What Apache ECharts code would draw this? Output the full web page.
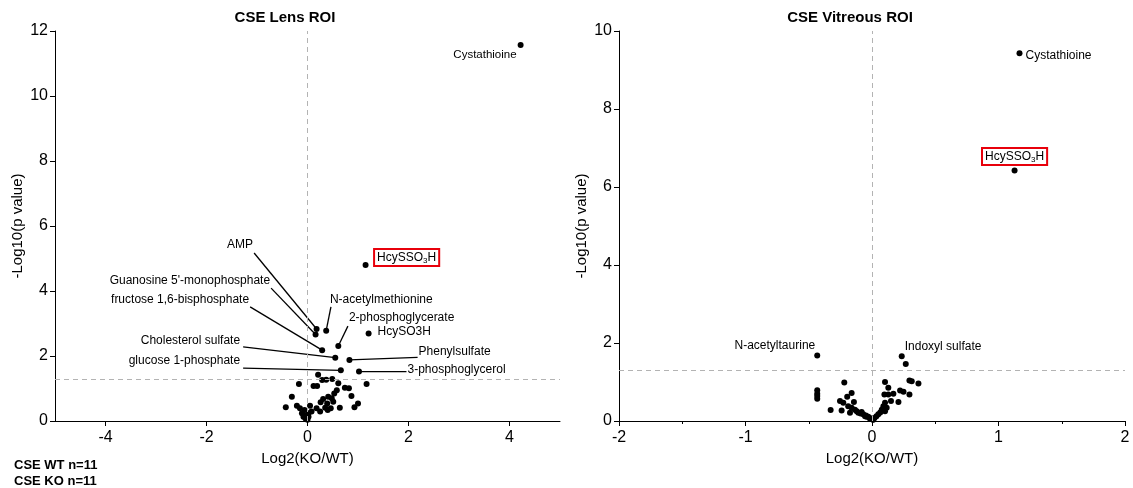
<!DOCTYPE html>
<html><head><meta charset="utf-8">
<script src="https://cdn.jsdelivr.net/npm/echarts@6/dist/echarts.min.js"></script>
<style>html,body{margin:0;padding:0;background:#fff}#c{width:1133px;height:488px}</style>
</head><body><div id="c"></div>
<script>
// ---------- DATA ----------
// CSE Lens ROI — labelled metabolites
const lensLabelNames = ['Cystathioine','HcySSO3H','AMP',"Guanosine 5'-monophosphate",'fructose 1,6-bisphosphate','N-acetylmethionine','2-phosphoglycerate','HcySO3H','Cholesterol sulfate','Phenylsulfate','glucose 1-phosphate','3-phosphoglycerol'];
const lensLabelX = [4.22, 1.15, 0.18, 0.16, 0.29, 0.37, 0.61, 1.21, 0.55, 0.83, 0.66, 1.02];
const lensLabelY = [11.57, 4.80, 2.83, 2.66, 2.18, 2.78, 2.31, 2.69, 1.95, 1.88, 1.56, 1.52];
// CSE Lens ROI — other metabolites
const lensOtherX = [0.21,0.29,0.37,0.49,-0.17,0.12,0.19,0.61,0.74,0.82,1.17,0.58,0.53,-0.31,0.41,0.31,0.48,0.87,0.26,0.39,0.51,1.00,0.93,-0.43,-0.21,-0.15,0.05,0.18,0.35,0.46,0.64,0.25,0.40,-0.06,-0.11,-0.02,-0.08,-0.04,0.02,0.08,0.02,0.00];
const lensOtherY = [1.42,1.26,1.27,1.29,1.14,1.08,1.08,1.16,1.02,1.01,1.14,0.95,0.85,0.75,0.75,0.68,0.70,0.77,0.58,0.54,0.59,0.54,0.42,0.42,0.47,0.39,0.47,0.39,0.41,0.39,0.41,0.29,0.34,0.34,0.24,0.18,0.13,0.08,0.24,0.29,0.13,0.04];

// CSE Vitreous ROI — labelled metabolites
const vitLabelNames = ['Cystathioine','HcySSO3H','N-acetyltaurine','Indoxyl sulfate'];
const vitLabelX = [1.166, 1.127, -0.433, 0.235];
const vitLabelY = [9.43, 6.42, 1.68, 1.66];
// CSE Vitreous ROI — other metabolites
const vitOtherX = [-0.433,-0.433,-0.433,-0.433,-0.219,-0.161,-0.196,-0.253,-0.227,-0.143,-0.188,-0.161,-0.327,-0.240,-0.174,-0.135,-0.121,-0.108,-0.090,-0.069,-0.048,-0.029,-0.011,0.005,-0.082,-0.055,-0.042,-0.016,
  0.267,0.296,0.314,0.367,0.103,0.129,0.222,0.249,0.296,0.098,0.129,0.169,0.150,0.209,0.103,0.090,0.116,0.077,0.103,0.065,0.050,0.035,0.020,0.010];
const vitOtherY = [0.79,0.70,0.64,0.57,0.99,0.72,0.62,0.51,0.47,0.49,0.38,0.34,0.28,0.27,0.21,0.29,0.25,0.21,0.19,0.17,0.14,0.11,0.07,0.04,0.23,0.12,0.11,0.06,
  1.46,1.04,1.02,0.96,1.00,0.85,0.78,0.75,0.68,0.68,0.68,0.70,0.51,0.49,0.47,0.38,0.34,0.29,0.25,0.22,0.17,0.12,0.08,0.03];

const lensXTicks = [-4, -2, 0, 2, 4];
const pThreshold = 1.3;   // -log10(0.05)
const foldLine = 0;

// ---------- LABEL LAYOUT (not data) ----------
const lensLabelLayout = {
  'Cystathioine': {dx: -4, dy: 10, align: 'right', size: 11.5},
  'HcySSO3H': {dx: 8.5, dy: -7.5, align: 'left', boxed: true},
  'AMP': {line: [-1.057, 5.17], dx: -1, dy: -8, align: 'right'},
  "Guanosine 5'-monophosphate": {line: [-0.721, 4.09], dx: -1, dy: -7, align: 'right'},
  'fructose 1,6-bisphosphate': {line: [-1.136, 3.51], dx: -1, dy: -7.5, align: 'right'},
  'N-acetylmethionine': {line: [0.464, 3.51], dx: -1, dy: -7.5, align: 'left'},
  '2-phosphoglycerate': {line: [0.80, 2.92], dx: 1, dy: -8, align: 'left'},
  'HcySO3H': {dx: 9, dy: -2, align: 'left'},
  'Cholesterol sulfate': {line: [-1.275, 2.28], dx: -3, dy: -6, align: 'right'},
  'Phenylsulfate': {line: [2.18, 1.96], dx: 1, dy: -6, align: 'left'},
  'glucose 1-phosphate': {line: [-1.275, 1.63], dx: -3, dy: -7, align: 'right'},
  '3-phosphoglycerol': {line: [1.96, 1.52], dx: 1, dy: -2, align: 'left'}
};
const vitLabelLayout = {
  'Cystathioine': {dx: 6, dy: 2, align: 'left'},
  'HcySSO3H': {dx: 0, dy: -14, align: 'center', boxed: true},
  'N-acetyltaurine': {dx: -2, dy: -10, align: 'right'},
  'Indoxyl sulfate': {dx: 3, dy: -10, align: 'left'}
};

const FONT = '"Liberation Sans", Arial, Helvetica, sans-serif';

function pairs(xs, ys) { return xs.map((x, i) => [x, ys[i]]); }

function labelSeries(axisIdx, names, xs, ys, layout) {
  return {
    type: 'custom',
    xAxisIndex: axisIdx, yAxisIndex: axisIdx,
    silent: true, clip: false, z: 1,
    encode: {x: 0, y: 1},
    data: names.map((n, i) => [xs[i], ys[i], i]),
    renderItem: function (params, api) {
      const i = api.value(2);
      const name = names[i];
      const L = layout[name];
      const p = api.coord([api.value(0), api.value(1)]);
      const children = [];
      let ax = p[0], ay = p[1];
      if (L.line) {
        const a = api.coord(L.line);
        children.push({type: 'line', shape: {x1: p[0], y1: p[1], x2: a[0], y2: a[1]},
          style: {stroke: '#000', lineWidth: 1.3}});
        ax = a[0]; ay = a[1];
      }
      let style;
      if (L.boxed) {
        style = {
          text: '{n|HcySSO}{s|3}{n|H}',
          rich: {
            n: {fontSize: 12, fontFamily: FONT, fill: '#000', lineHeight: 14},
            s: {fontSize: 8, fontFamily: FONT, fill: '#000', lineHeight: 8, verticalAlign: 'bottom'}
          },
          borderColor: '#e8000b', borderWidth: 2, padding: [2, 3, 1, 3],
          align: L.align, verticalAlign: 'middle'
        };
      } else {
        style = {text: name, fill: '#000', fontSize: L.size || 12, fontFamily: FONT,
          align: L.align, verticalAlign: 'middle'};
      }
      children.push({type: 'text', x: ax + L.dx, y: ay + L.dy, style: style});
      return {type: 'group', children: children};
    }
  };
}

function scatterSeries(axisIdx, data, withLines) {
  const s = {
    type: 'scatter', xAxisIndex: axisIdx, yAxisIndex: axisIdx,
    data: data, symbolSize: 6, itemStyle: {color: '#000', opacity: 1}, z: 3, silent: true
  };
  if (withLines) {
    s.markLine = {
      silent: true, symbol: 'none', label: {show: false}, animation: false,
      lineStyle: {type: [5, 4], color: '#b3b3b3', width: 1},
      data: [{yAxis: pThreshold}, {xAxis: foldLine}]
    };
  }
  return s;
}

const axisCommon = {
  axisLine: {show: true, onZero: false, lineStyle: {color: '#000', width: 1}},
  axisTick: {show: true, length: 5, lineStyle: {color: '#000'}},
  axisLabel: {color: '#000', fontSize: 16, fontFamily: FONT},
  splitLine: {show: false},
  nameTextStyle: {color: '#000', fontSize: 15, fontFamily: FONT},
  nameLocation: 'middle'
};

const chart = echarts.init(document.getElementById('c'), null, {renderer: 'canvas'});
chart.setOption({
  animation: false,
  backgroundColor: '#fff',
  grid: [
    {left: 55, top: 31, width: 505, height: 390},
    {left: 619, top: 31, width: 506, height: 390}
  ],
  xAxis: [
    Object.assign({}, axisCommon, {
      gridIndex: 0, type: 'value', min: -5, max: 5, name: 'Log2(KO/WT)', nameGap: 25,
      axisTick: {show: true, length: 5, lineStyle: {color: '#000'}, customValues: lensXTicks},
      axisLabel: {color: '#000', fontSize: 16, fontFamily: FONT, margin: 9, customValues: lensXTicks}
    }),
    Object.assign({}, axisCommon, {
      gridIndex: 1, type: 'value', min: -2, max: 2, interval: 1, name: 'Log2(KO/WT)', nameGap: 25,
      axisLabel: {color: '#000', fontSize: 16, fontFamily: FONT, margin: 9},
      minorTick: {show: true, splitNumber: 2, length: 3, lineStyle: {color: '#000'}}
    })
  ],
  yAxis: [
    Object.assign({}, axisCommon, {
      gridIndex: 0, type: 'value', min: 0, max: 12, interval: 2, name: '-Log10(p value)', nameGap: 30,
      axisLabel: {color: '#000', fontSize: 16, fontFamily: FONT, margin: 7}
    }),
    Object.assign({}, axisCommon, {
      gridIndex: 1, type: 'value', min: 0, max: 10, interval: 2, name: '-Log10(p value)', nameGap: 30,
      axisLabel: {color: '#000', fontSize: 16, fontFamily: FONT, margin: 7}
    })
  ],
  graphic: [
    {type: 'text', x: 285, y: 18, style: {text: 'CSE Lens ROI', fontSize: 15, fontWeight: 'bold', fontFamily: FONT, fill: '#000', align: 'center', verticalAlign: 'middle'}},
    {type: 'text', x: 850, y: 18, style: {text: 'CSE Vitreous ROI', fontSize: 15, fontWeight: 'bold', fontFamily: FONT, fill: '#000', align: 'center', verticalAlign: 'middle'}},
    {type: 'text', x: 14, y: 465, style: {text: 'CSE WT n=11', fontSize: 13, fontWeight: 'bold', fontFamily: FONT, fill: '#000', align: 'left', verticalAlign: 'middle'}},
    {type: 'text', x: 14, y: 481, style: {text: 'CSE KO n=11', fontSize: 13, fontWeight: 'bold', fontFamily: FONT, fill: '#000', align: 'left', verticalAlign: 'middle'}}
  ],
  series: [
    labelSeries(0, lensLabelNames, lensLabelX, lensLabelY, lensLabelLayout),
    scatterSeries(0, pairs(lensOtherX, lensOtherY), true),
    scatterSeries(0, pairs(lensLabelX, lensLabelY), false),
    labelSeries(1, vitLabelNames, vitLabelX, vitLabelY, vitLabelLayout),
    scatterSeries(1, pairs(vitOtherX, vitOtherY), true),
    scatterSeries(1, pairs(vitLabelX, vitLabelY), false)
  ]
});
</script>
</body></html>
